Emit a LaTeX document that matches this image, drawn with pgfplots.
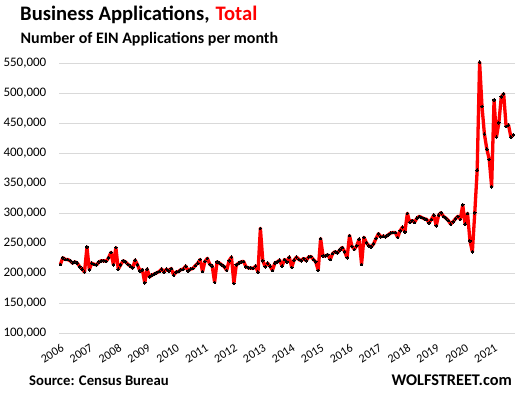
\documentclass[border=0pt]{standalone}
\usepackage{pgfplots}
\pgfplotsset{compat=1.18}
\usepackage{pgfplotstable}
\usepackage{fontspec}
\setmainfont{Carlito}
\definecolor{gridgray}{HTML}{D9D9D9}
\definecolor{exred}{HTML}{FF0000}
\pgfplotstableread{
m v
0 215000
1 226000
2 223000
3 223000
4 221000
5 217000
6 219000
7 217000
8 211000
9 207000
10 202000
11 244000
12 206000
13 217000
14 215000
15 214000
16 219000
17 221000
18 221000
19 220000
20 226000
21 235000
22 214000
23 243000
24 207000
25 214000
26 221000
27 219000
28 215000
29 212000
30 209000
31 222000
32 214000
33 204000
34 206000
35 184000
36 207000
37 194000
38 197000
39 199000
40 201000
41 203000
42 207000
43 202000
44 207000
45 204000
46 208000
47 197000
48 202000
49 203000
50 206000
51 207000
52 212000
53 204000
54 207000
55 208000
56 213000
57 217000
58 223000
59 203000
60 220000
61 225000
62 215000
63 212000
64 185000
65 219000
66 217000
67 214000
68 211000
69 205000
70 221000
71 227000
72 183000
73 214000
74 217000
75 219000
76 220000
77 211000
78 209000
79 209000
80 208000
81 212000
82 202000
83 275000
84 221000
85 211000
86 217000
87 212000
88 205000
89 217000
90 219000
91 222000
92 212000
93 223000
94 219000
95 227000
96 210000
97 222000
98 227000
99 223000
100 221000
101 225000
102 221000
103 227000
104 228000
105 223000
106 219000
107 205000
108 258000
109 229000
110 229000
111 231000
112 223000
113 233000
114 236000
115 234000
116 239000
117 243000
118 236000
119 226000
120 263000
121 245000
122 240000
123 246000
124 257000
125 215000
126 260000
127 251000
128 246000
129 244000
130 249000
131 258000
132 266000
133 261000
134 262000
135 261000
136 264000
137 267000
138 268000
139 268000
140 260000
141 271000
142 277000
143 269000
144 300000
145 285000
146 288000
147 285000
148 292000
149 295000
150 293000
151 291000
152 290000
153 284000
154 290000
155 297000
156 279000
157 297000
158 301000
159 295000
160 292000
161 288000
162 282000
163 286000
164 291000
165 295000
166 290000
167 314000
168 282000
169 300000
170 254000
171 236000
172 301000
173 372000
174 552000
175 478000
176 432000
177 407000
178 390000
179 344000
180 489000
181 427000
182 451000
183 494000
184 499000
185 445000
186 447000
187 427000
188 431000
}\datatable
\begin{document}
\begin{tikzpicture}
\useasboundingbox (0pt,0pt) rectangle (519pt,-396pt);
\node[anchor=base west, inner sep=0pt, font=\bfseries\fontsize{20.6}{24}\selectfont] at (20pt,-21pt) {Business Applications,\hspace{0.3em}\textcolor{exred}{Total}};
\node[anchor=base west, inner sep=0pt, font=\bfseries\fontsize{16}{19}\selectfont] at (20.5pt,-44pt) {Number of EIN Applications per month};
\node[anchor=base west, inner sep=0pt, font=\bfseries\fontsize{14.7}{17}\selectfont] at (29pt,-385pt) {Source: Census Bureau};
\node[anchor=base east, inner sep=0pt, font=\bfseries\fontsize{16.3}{19}\selectfont] at (512pt,-385pt) {WOLFSTREET.com};
\begin{axis}[
  at={(59pt,-333.3pt)}, anchor=south west,
  scale only axis, width=456pt, height=270pt,
  xmin=-0.6, xmax=188.7, ymin=100000, ymax=550000,
  clip=false,
  axis line style={draw=none},
  tick style={draw=none},
  ymajorgrids, grid style={gridgray, line width=1pt},
  xtick={0,12,...,180},
  xticklabels={2006,2007,2008,2009,2010,2011,2012,2013,2014,2015,2016,2017,2018,2019,2020,2021},
  xticklabel shift=10pt,
  xticklabel style={rotate=32, anchor=north east, inner sep=0pt, font=\fontsize{12}{14}\selectfont},
  ytick={100000,150000,...,550000},
  scaled y ticks=false,
  yticklabel shift=12.5pt,
  yticklabel style={/pgf/number format/fixed, /pgf/number format/1000 sep={,}, /pgf/number format/assume math mode=true, anchor=east, inner sep=0pt, font=\fontsize{13}{15}\selectfont},
]
\addplot[exred, line width=3.3pt, line join=round, mark=*, mark size=1.3pt, mark options={fill=black, draw=black, line width=0pt}] table[x=m, y=v] {\datatable};
\end{axis}
\end{tikzpicture}
\end{document}
